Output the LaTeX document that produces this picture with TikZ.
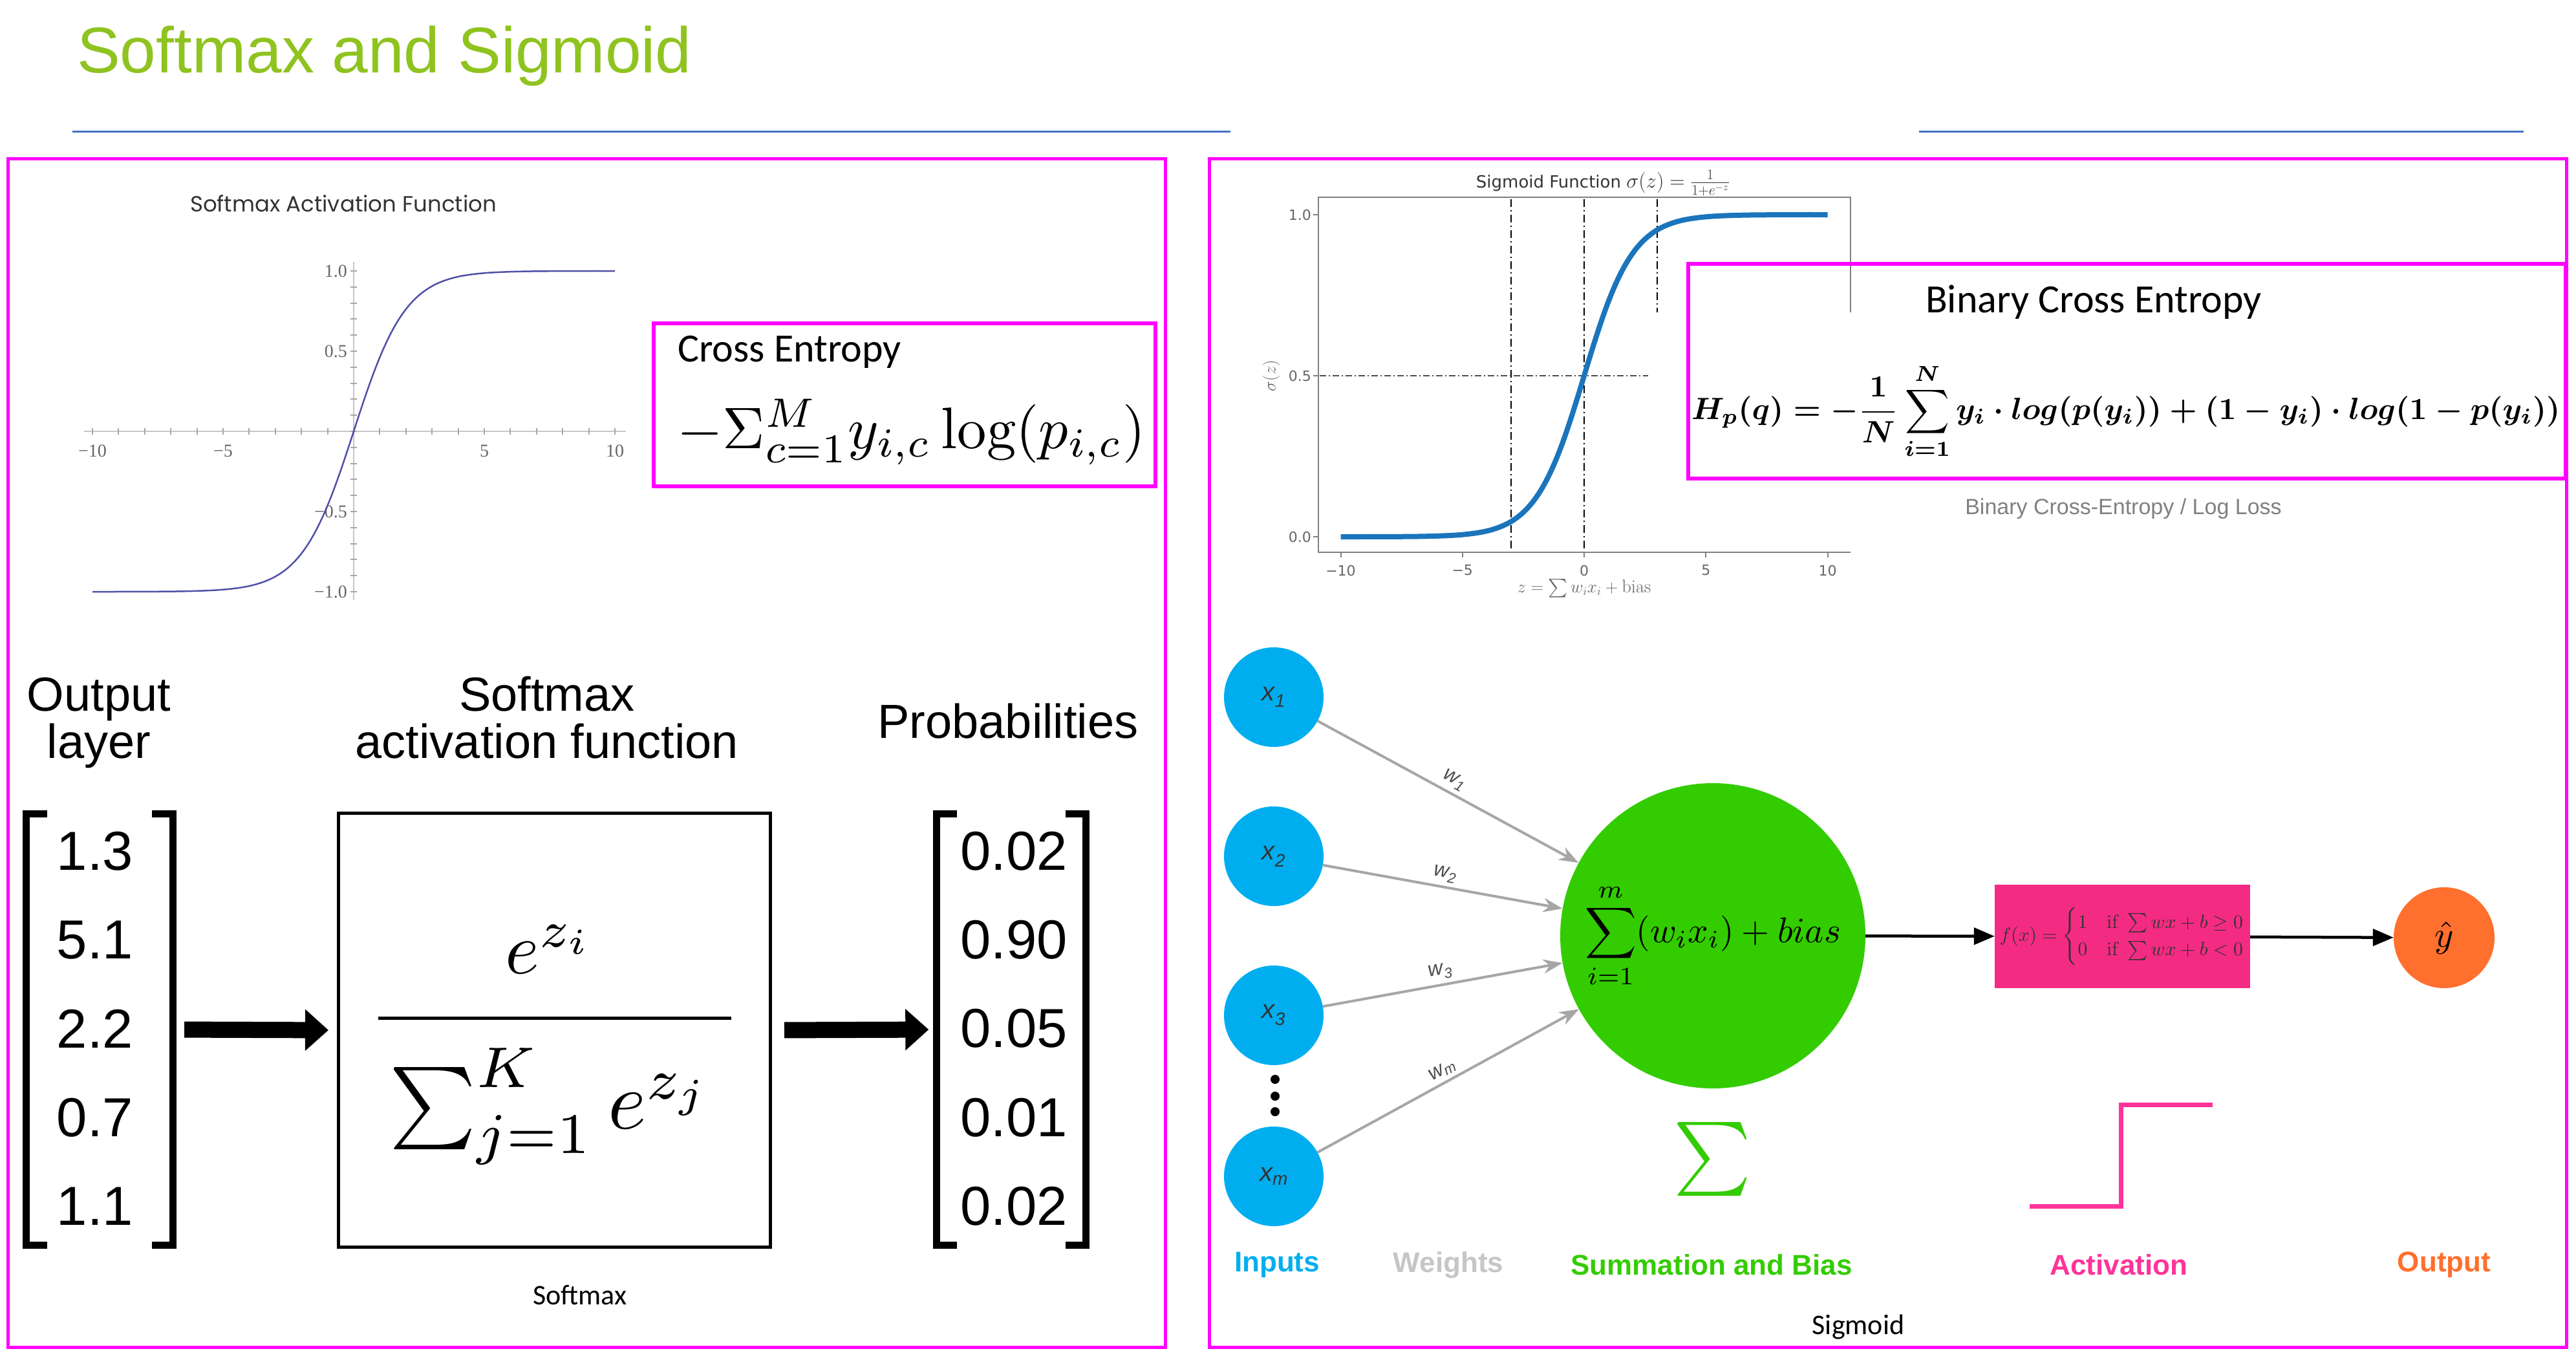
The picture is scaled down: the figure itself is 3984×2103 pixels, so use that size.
\documentclass[tikz,border=0pt]{standalone}
\usepackage{amsmath,amssymb}
\usepackage{fontspec}
\newfontfamily\arialfont{Liberation Sans}
\newfontfamily\calibrifont{Carlito}
\newfontfamily\poppinsfont{Poppins}
\newfontfamily\timesfont{Liberation Serif}
\newfontfamily\dejavufont{DejaVu Sans}
\usepackage{xcolor}
\usepackage{tikz}
\usetikzlibrary{positioning,arrows.meta,calc}

\definecolor{titlegreen}{HTML}{8FC31F}
\definecolor{rulebl}{HTML}{4472C4}
\definecolor{magbox}{HTML}{FF00FF}
\definecolor{curvebl}{HTML}{5050A8}
\definecolor{sigbl}{HTML}{1A75BC}
\definecolor{incyan}{HTML}{00AEEF}
\definecolor{sumgreen}{HTML}{33CC00}
\definecolor{actpink}{HTML}{F42B83}
\definecolor{steppink}{HTML}{FF3399}
\definecolor{outorange}{HTML}{FF6F2E}
\definecolor{wgray}{HTML}{A6A6A6}

\begin{document}
\begin{tikzpicture}[
    x=1pt, y=-1pt,
    panel/.style={draw=magbox, line width=5pt},
    lbl/.style={font=\fontsize{74}{80}\selectfont\arialfont, inner sep=0pt},
    num/.style={font=\fontsize{85}{90}\selectfont\arialfont, inner sep=0pt},
    bracket/.style={line width=11pt},
    bigarrow/.style={line width=25pt, -{Triangle[length=36pt,width=62pt]}},
    axlbl/.style={font=\fontsize{28}{28}\selectfont\timesfont, text=black!60, inner sep=0pt},
    sglbl/.style={font=\fontsize{22}{22}\selectfont\dejavufont, text=black!60, inner sep=0pt},
    innode/.style={circle, fill=incyan, minimum size=154pt, inner sep=0pt,
        font=\fontsize{40}{40}\selectfont\arialfont\itshape, text=black!80},
    sumnode/.style={circle, fill=sumgreen, minimum size=472pt, inner sep=0pt},
    actbox/.style={rectangle, fill=actpink, minimum width=395pt, minimum height=160pt,
        inner sep=0pt, text=black!80},
    outnode/.style={circle, fill=outorange, minimum size=156pt, inner sep=0pt},
    wline/.style={draw=wgray, line width=4pt, -{Stealth[length=30pt,width=22pt]}},
    wlbl/.style={font=\fontsize{32}{32}\selectfont\arialfont\itshape, text=black!70, inner sep=6pt},
    flow/.style={line width=4.5pt, -{Triangle[length=32pt,width=26pt]}},
    botlbl/.style={font=\fontsize{44}{44}\selectfont\arialfont\bfseries, inner sep=0pt},
    declare function={sigm(\t)=0.5+sign(\t)*(0.5-exp(-abs(\t))/(1+exp(-abs(\t))));}
]
\useasboundingbox (0,0) rectangle (3984,2103);

\node[anchor=base west, inner sep=0pt, text=titlegreen,
    font=\fontsize{100}{100}\selectfont\arialfont] (title) at (119,113) {Softmax and Sigmoid};
\draw[rulebl, line width=3pt] (112,204) -- (1903,204);
\draw[rulebl, line width=3pt] (2968,204) -- (3903,204);

\draw[panel] (12,246) rectangle (1802,2083);
\draw[panel] (1870,246) rectangle (3969,2083);

% softmax curve
\node[font=\fontsize{34}{34}\selectfont\poppinsfont, text=black!80] (smtitle) at (531,315) {Softmax Activation Function};
\draw[gray!45, line width=1.5pt] (130,667) -- (968,667);
\draw[gray!45, line width=1.5pt] (547,405) -- (547,928);
\foreach \k in {-10,...,10}
    \draw[gray!70, line width=2pt] ({547+40.4*\k},662) -- ({547+40.4*\k},672);
\foreach \k in {-10,...,10}
    \draw[gray!70, line width=2pt] (542,{667-24.8*\k}) -- (552,{667-24.8*\k});
\foreach \k/\t in {-10/−10,-5/−5,5/5,10/10}
    \node[axlbl] at ({547+40.4*\k},697) {\t};
\foreach \v/\t in {1/1.0,0.5/0.5,-0.5/−0.5,-1/−1.0}
    \node[axlbl, anchor=east] at (537,{667-248*\v}) {\t};
\draw[curvebl, line width=2.5pt] plot[domain=-10:10, samples=120, smooth]
    ({547+40.4*\x},{667-248*(2*sigm(\x)-1)});

\draw[draw=magbox, line width=6pt] (1011,500) rectangle (1787,752);
\node[anchor=base west, inner sep=0pt, font=\fontsize{62}{62}\selectfont\calibrifont] (cetitle) at (1048,559) {Cross Entropy};
\node[anchor=west, inner sep=0pt] (ceformula) at (1047,668)
    {\resizebox{724pt}{!}{$-\Sigma_{c=1}^{M} y_{i,c}\log(p_{i,c})$}};

% softmax layer
\node[lbl, anchor=base] (outlbl) at (153,1099) {Output};
\node[lbl, anchor=base] (layerlbl) at (153,1172) {layer};
\node[lbl, anchor=base] (smlbl) at (846,1099) {Softmax};
\node[lbl, anchor=base] (actlbl) at (846,1172) {activation function};
\node[lbl, anchor=base] (problbl) at (1559,1141) {Probabilities};

\node[minimum width=226pt, minimum height=667pt, inner sep=0pt] (inmat) at (154,1592) {};
\draw[bracket] ([xshift=32pt]inmat.north west) -- (inmat.north west) -- (inmat.south west) -- ([xshift=32pt]inmat.south west);
\draw[bracket] ([xshift=-32pt]inmat.north east) -- (inmat.north east) -- (inmat.south east) -- ([xshift=-32pt]inmat.south east);
\foreach \v [count=\i] in {1.3,5.1,2.2,0.7,1.1}
    \node[num] (z\i) at (147,{1316+137.3*(\i-1)}) {\v};

\node[minimum width=231pt, minimum height=667pt, inner sep=0pt] (outmat) at (1564,1592) {};
\draw[bracket] ([xshift=32pt]outmat.north west) -- (outmat.north west) -- (outmat.south west) -- ([xshift=32pt]outmat.south west);
\draw[bracket] ([xshift=-32pt]outmat.north east) -- (outmat.north east) -- (outmat.south east) -- ([xshift=-32pt]outmat.south east);
\foreach \v [count=\i] in {0.02,0.90,0.05,0.01,0.02}
    \node[num] (p\i) at (1568,{1316+137.3*(\i-1)}) {\v};

\node[draw, line width=5pt, minimum width=668pt, minimum height=671pt, inner sep=0pt] (fnbox) at (857.5,1593) {};
\node[inner sep=0pt] (numer) at (850,1468) {\resizebox{137pt}{!}{$e^{z_i}$}};
\draw[line width=5pt] (585,1574) -- (1131,1574);
\node[inner sep=0pt] (denom) at (852,1711) {\resizebox{499pt}{!}{$\sum_{j=1}^{K} e^{z_j}$}};

\draw[bigarrow, shorten <=18pt, shorten >=13pt] (inmat.east) -- (fnbox.west);
\draw[bigarrow, shorten <=19pt, shorten >=12pt] (fnbox.east) -- (outmat.west);

\node[font=\fontsize{44}{44}\selectfont\calibrifont] (smcap) at (897,2003) {Softmax};

% sigmoid curve
\node[font=\fontsize{26}{26}\selectfont\dejavufont, text=black!80] (sgtitle) at (2479,283)
    {Sigmoid Function \scalebox{1.3}{$\sigma(z) = \frac{1}{1+e^{-z}}$}};
\draw[gray, line width=2pt] (2862,483) -- (2862,305) -- (2039,305) -- (2039,854) -- (2862,854);
\foreach \k in {-3,0}
    \draw[line width=2pt, dash pattern=on 12pt off 5pt on 2pt off 5pt] ({2450+37.65*\k},308) -- ({2450+37.65*\k},852);
\draw[line width=2pt, dash pattern=on 12pt off 5pt on 2pt off 5pt] ({2450+37.65*3},308) -- ({2450+37.65*3},483);
\draw[black!70, line width=2pt, dash pattern=on 10pt off 4pt on 2pt off 4pt] (2041,581) -- (2549,581);
\draw[sigbl, line width=8pt] plot[domain=-10:10, samples=120, smooth]
    ({2450+37.65*\x},{830-498*sigm(\x)});
\foreach \k/\t in {-10/−10,-5/−5,0/0,5/5,10/10} {
    \draw[gray, line width=2pt] ({2450+37.65*\k},854) -- ({2450+37.65*\k},862);
    \node[sglbl] at ({2450+37.65*\k},882) {\t};
}
\foreach \v/\t in {0/0.0,0.5/0.5,1/1.0} {
    \draw[gray, line width=2pt] (2039,{830-498*\v}) -- (2031,{830-498*\v});
    \node[sglbl, anchor=east] at (2028,{830-498*\v}) {\t};
}
\node[sglbl, rotate=90] (sgylbl) at (1966,581) {\scalebox{1.3}{$\sigma(z)$}};
\node[sglbl] (sgxlbl) at (2450,910) {\scalebox{1.3}{$z=\sum w_i x_i + \mathrm{bias}$}};

\draw[draw=magbox, line width=6pt] (2611,408) rectangle (3968,740);
\node[anchor=base, font=\fontsize{62}{62}\selectfont\calibrifont, inner sep=0pt] (bcetitle) at (3238,483) {Binary Cross Entropy};
\node[anchor=west, inner sep=0pt] (bceformula) at (2616,636)
    {\resizebox{1343pt}{!}{\boldmath$\displaystyle H_p(q) = -\frac{1}{N}\sum_{i=1}^{N} y_i\cdot log(p(y_i)) + (1-y_i)\cdot log(1-p(y_i))$}};
\node[font=\fontsize{34}{34}\selectfont\arialfont, text=gray] (bcecap) at (3284,787) {Binary Cross-Entropy / Log Loss};

% perceptron
\node[innode] (x1) at (1970,1078) {x\textsubscript{1}};
\node[innode] (x2) at (1970,1324) {x\textsubscript{2}};
\node[innode] (x3) at (1970,1570) {x\textsubscript{3}};
\node[innode] (xm) at (1970,1819) {x\textsubscript{m}};
\foreach \yy in {1669,1695,1719}
    \fill (1972,\yy) circle (7pt);

\node[sumnode] (sum) at (2649,1447) {\resizebox{396pt}{!}{$\displaystyle\sum_{i=1}^{m}(w_ix_i)+bias$}};
\foreach \n/\w in {x1/1,x2/2,x3/3,xm/m}
    \draw[wline] (\n) -- node[wlbl, sloped, above] {w\textsubscript{\w}} (sum);

\node[actbox] (act) at (3282.5,1448)
    {\resizebox{380pt}{!}{$f(x) = \begin{cases}1 & \text{if } \sum wx + b \geq 0\\ 0 & \text{if } \sum wx + b < 0\end{cases}$}};
\node[outnode] (out) at (3780,1450) {\resizebox*{!}{50pt}{$\hat{y}$}};
\draw[flow] (sum) -- (act);
\draw[flow] (act) -- (out);

\node[inner sep=0pt, text=sumgreen] (sigmaicon) at (2648,1792) {\resizebox*{120pt}{114pt}{$\textstyle\sum$}};
\draw[steppink, line width=7pt] (3139,1865) -- (3280,1865) -- (3280,1708) -- (3422,1708);

\node[botlbl, text=incyan] (inlbl) at (1975,1956) {Inputs};
\node[botlbl, text=gray!45] (weightlbl) at (2240,1956) {Weights};
\node[botlbl, text=sumgreen] (sumlbl) at (2647,1956) {Summation and Bias};
\node[botlbl, text=steppink] (actvlbl) at (3277,1956) {Activation};
\node[botlbl, text=outorange] (outplbl) at (3780,1956) {Output};

\node[font=\fontsize{44}{44}\selectfont\calibrifont] (sgcap) at (2874,2052) {Sigmoid};

\end{tikzpicture}
\end{document}
